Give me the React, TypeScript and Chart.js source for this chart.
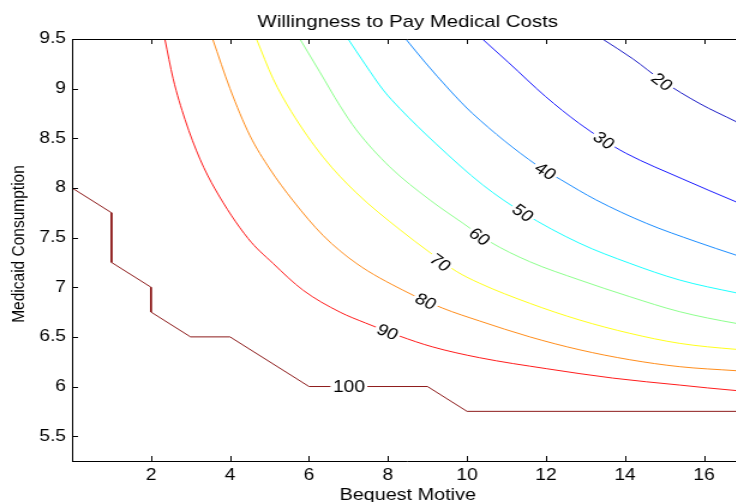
import { useEffect, useRef } from 'react';
import { Chart, registerables, Plugin } from 'chart.js';

Chart.register(...registerables);

// axis ticks
const xTicks = [2, 4, 6, 8, 10, 12, 14, 16];
const yTicks = [5.5, 6, 6.5, 7, 7.5, 8, 8.5, 9, 9.5];

// contour levels and their jet colours
const levels = [100, 90, 80, 70, 60, 50, 40, 30, 20];
const levelColors = ['#800000', '#ff0000', '#ff8000', '#ffff00', '#80ff80', '#00ffff', '#0080ff', '#0000ff', '#0000bf'];

// contour lines, [bequest motive, medicaid consumption]
const c100 = [[0, 8], [1, 7.75], [1, 7.25], [2, 7], [2, 6.75], [3, 6.5], [4, 6.5], [6, 6], [9, 6], [10, 5.75], [17, 5.75]];
const c90 = [[2.35, 9.5], [2.56, 9.1], [2.86, 8.69], [3.24, 8.29], [3.62, 7.99], [4.46, 7.49], [5.09, 7.24], [5.85, 6.97], [6.78, 6.75], [7.43, 6.64], [8.28, 6.51], [9.12, 6.4], [10.32, 6.29], [12.01, 6.18], [13.69, 6.085], [15.38, 6.015], [16.8, 5.96], [17, 5.955]];
const c80 = [[3.56, 9.5], [4.0, 9.0], [4.5, 8.53], [5.01, 8.19], [5.6, 7.87], [6.36, 7.52], [7.2, 7.24], [8.38, 6.97], [9.38, 6.79], [10.32, 6.66], [11.59, 6.5], [12.85, 6.37], [14.12, 6.27], [15.38, 6.2], [16.8, 6.16], [17, 6.155]];
const c70 = [[4.67, 9.5], [5.09, 9.1], [5.55, 8.77], [6.36, 8.31], [7.2, 7.95], [8.3, 7.58], [9.06, 7.35], [9.73, 7.16], [10.32, 7.04], [11.59, 6.838], [12.85, 6.67], [14.12, 6.536], [15.38, 6.435], [16.8, 6.375], [17, 6.37]];
const c60 = [[5.77, 9.5], [6.27, 9.17], [6.78, 8.83], [7.2, 8.584], [8.04, 8.214], [9.06, 7.879], [9.9, 7.644], [10.57, 7.46], [11.59, 7.257], [12.85, 7.073], [14.12, 6.905], [15.38, 6.754], [16.8, 6.637], [17, 6.625]];
const c50 = [[6.99, 9.5], [7.43, 9.24], [7.88, 8.986], [8.3, 8.8], [9.2, 8.45], [10.4, 8.03], [11.42, 7.75], [12.85, 7.443], [14.12, 7.241], [15.38, 7.073], [16.8, 6.945], [17, 6.93]];
const c40 = [[8.45, 9.5], [8.95, 9.26], [9.56, 8.986], [10.14, 8.75], [11.76, 8.231], [12.39, 8.08], [13.27, 7.879], [14.54, 7.644], [15.8, 7.459], [16.8, 7.325], [17, 7.3]];
const c30 = [[10.39, 9.5], [11.06, 9.26], [11.99, 8.92], [12.84, 8.65], [13.47, 8.48], [14.02, 8.35], [15.46, 8.09], [16.8, 7.862], [17, 7.83]];
const c20 = [[13.43, 9.5], [14.2, 9.3], [14.94, 9.08], [15.89, 8.85], [16.8, 8.67], [17, 8.63]];
const contours = [c100, c90, c80, c70, c60, c50, c40, c30, c20];

// inline label positions
const labelX = [7.01, 7.99, 8.96, 9.33, 10.32, 11.42, 11.99, 13.47, 14.94];
const labelY = [6.0, 6.55, 6.86, 7.25, 7.51, 7.75, 8.17, 8.48, 9.07];

const FONT = "'Liberation Sans', Arial, Helvetica, sans-serif";
const STRETCH = 1.2; // the original figure is stretched sideways

const matlabAxes: Plugin = {
  id: 'matlabAxes',
  afterDatasetsDraw(chart) {
    const { ctx } = chart;
    const xs = chart.scales.x;
    const ys = chart.scales.y;
    ctx.save();
    ctx.font = `16px ${FONT}`;
    ctx.textAlign = 'center';
    ctx.textBaseline = 'middle';
    levels.forEach((lv, k) => {
      const pts = contours[k];
      const lx = labelX[k];
      let i = 0;
      while (i < pts.length - 2 && pts[i + 1][0] < lx) i++;
      const dx = xs.getPixelForValue(pts[i + 1][0]) - xs.getPixelForValue(pts[i][0]);
      const dy = ys.getPixelForValue(pts[i + 1][1]) - ys.getPixelForValue(pts[i][1]);
      let a = Math.atan2(dy, dx);
      if (a > Math.PI / 2) a -= Math.PI;
      if (a < -Math.PI / 2) a += Math.PI;
      const txt = String(lv);
      const w = ctx.measureText(txt).width;
      ctx.save();
      ctx.translate(xs.getPixelForValue(lx), ys.getPixelForValue(labelY[k]));
      ctx.rotate(a);
      ctx.fillStyle = '#ffffff';
      ctx.fillRect(-w / 2 - 2, -7, w + 4, 14);
      ctx.fillStyle = '#000000';
      ctx.fillText(txt, 0, 1);
      ctx.restore();
    });
    ctx.restore();
  },
  afterDraw(chart) {
    const { ctx, chartArea: ca } = chart;
    const xs = chart.scales.x;
    const ys = chart.scales.y;
    ctx.save();
    ctx.strokeStyle = '#000000';
    ctx.lineWidth = 1;
    ctx.beginPath();
    ctx.moveTo(ca.left, ca.top + 0.5);
    ctx.lineTo(ca.right, ca.top + 0.5);
    ctx.moveTo(ca.left + 0.5, ca.top);
    ctx.lineTo(ca.left + 0.5, ca.bottom);
    ctx.moveTo(ca.left, ca.bottom + 0.5);
    ctx.lineTo(ca.right, ca.bottom + 0.5);
    xTicks.forEach((v) => {
      const px = Math.round(xs.getPixelForValue(v)) + 0.5;
      ctx.moveTo(px, ca.bottom);
      ctx.lineTo(px, ca.bottom - 5);
      ctx.moveTo(px, ca.top);
      ctx.lineTo(px, ca.top + 5);
    });
    yTicks.forEach((v) => {
      const py = Math.round(ys.getPixelForValue(v)) + 0.5;
      ctx.moveTo(ca.left, py);
      ctx.lineTo(ca.left + 5, py);
    });
    ctx.stroke();

    ctx.fillStyle = '#000000';
    ctx.textAlign = 'center';
    ctx.textBaseline = 'alphabetic';
    const cx = (ca.left + ca.right) / 2;
    ctx.font = `17px ${FONT}`;
    ctx.fillText('Willingness to Pay Medical Costs', cx, 26.5);
    ctx.font = `16.5px ${FONT}`;
    ctx.fillText('Bequest Motive', cx, 500);
    ctx.translate(20, 244);
    ctx.rotate(-Math.PI / 2);
    ctx.font = `15.5px ${FONT}`;
    ctx.fillText('Medicaid Consumption', 0, 0);
    ctx.restore();
  },
};

export default function App() {
  const canvasRef = useRef<HTMLCanvasElement>(null);

  useEffect(() => {
    document.body.style.margin = '0';
    if (!canvasRef.current) return;

    const chart = new Chart(canvasRef.current, {
      type: 'scatter',
      data: {
        datasets: contours.map((pts, k) => ({
          label: String(levels[k]),
          data: pts.map(([x, y]) => ({ x, y })),
          showLine: true,
          borderColor: levelColors[k],
          borderWidth: 0.9,
          pointRadius: 0,
          cubicInterpolationMode: k === 0 ? 'default' : 'monotone',
          tension: 0,
        })),
      },
      options: {
        animation: false,
        responsive: true,
        maintainAspectRatio: false,
        layout: { padding: { top: 39, left: 0, right: 0, bottom: 0 } },
        plugins: {
          legend: { display: false },
          tooltip: { enabled: false },
          title: { display: false },
        },
        scales: {
          x: {
            type: 'linear',
            min: 0,
            max: 17,
            afterBuildTicks: (s) => { s.ticks = xTicks.map((value) => ({ value })); },
            afterFit: (s) => { s.height = 41; },
            grid: { display: false, drawTicks: false },
            border: { display: false },
            ticks: { padding: 5, color: '#000', font: { family: FONT, size: 16 }, maxRotation: 0, autoSkip: false },
          },
          y: {
            type: 'linear',
            min: 5.25,
            max: 9.5,
            afterBuildTicks: (s) => { s.ticks = yTicks.map((value) => ({ value })); },
            afterFit: (s) => { s.width = 60; },
            grid: { display: false, drawTicks: false },
            border: { display: false },
            ticks: { padding: 5, color: '#000', font: { family: FONT, size: 16 }, autoSkip: false, callback: (v) => String(v) },
          },
        },
      },
      plugins: [matlabAxes],
    });

    return () => chart.destroy();
  }, []);

  return (
    <div style={{ position: 'relative', width: 736, height: 502, overflow: 'hidden', background: '#fff' }}>
      <div style={{ width: 620, height: 502, transform: `scaleX(${STRETCH})`, transformOrigin: '0 0' }}>
        <canvas ref={canvasRef} />
      </div>
    </div>
  );
}
